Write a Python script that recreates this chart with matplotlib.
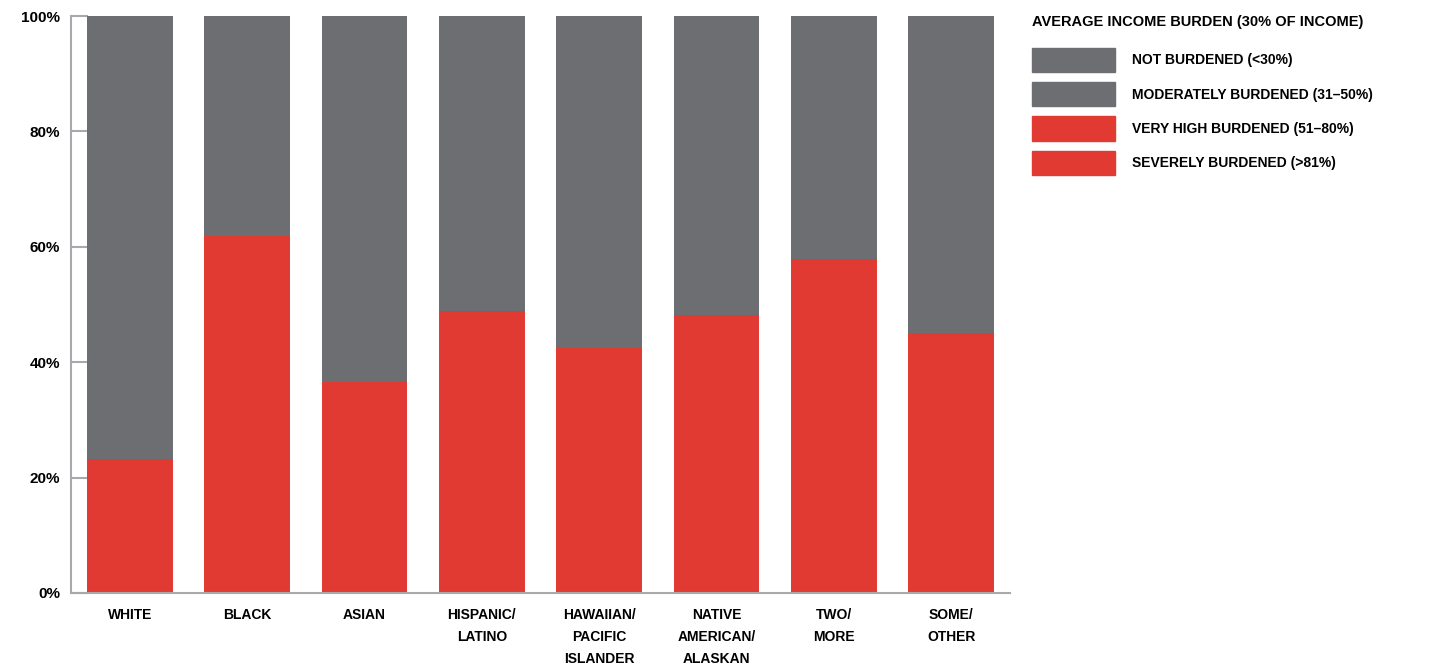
import matplotlib.pyplot as plt
from matplotlib.patches import Patch

plt.rcParams["font.family"] = ["Liberation Sans Narrow", "Liberation Sans", "DejaVu Sans"]
plt.rcParams["font.weight"] = "bold"

# 数据
categories = ["WHITE", "BLACK", "ASIAN", "HISPANIC/\nLATINO", "HAWAIIAN/\nPACIFIC\nISLANDER",
              "NATIVE\nAMERICAN/\nALASKAN", "TWO/\nMORE", "SOME/\nOTHER"]
burdened = [23.2, 61.9, 36.6, 48.9, 42.5, 48.2, 57.9, 45.1]
not_burdened = [100 - v for v in burdened]
legend_title = "AVERAGE INCOME BURDEN (30% OF INCOME)"
legend_labels = ["NOT BURDENED (<30%)", "MODERATELY BURDENED (31–50%)",
                 "VERY HIGH BURDENED (51–80%)", "SEVERELY BURDENED (>81%)"]

gray = "#6d6e71"
red = "#e03a33"
axis_col = "#a7a9ac"

fig = plt.figure(figsize=(14.4, 6.67), dpi=100)
ax = fig.add_axes([0.0493, 0.111, 0.652, 0.865])

x = range(len(categories))
ax.bar(x, burdened, width=0.73, color=red, zorder=2)
ax.bar(x, not_burdened, bottom=burdened, width=0.73, color=gray, zorder=2)

ax.set_xlim(-0.5, 7.5)
ax.set_ylim(0, 100)
ax.set_yticks([0, 20, 40, 60, 80, 100])
ax.set_yticklabels(["0%", "20%", "40%", "60%", "80%", "100%"], fontsize=11, fontweight="bold")
ax.set_xticks(list(x))
ax.set_xticklabels(categories, fontsize=10, fontweight="bold", linespacing=1.7, va="top")
ax.tick_params(axis="y", direction="in", length=12, width=1.5, color=axis_col, pad=8)
ax.tick_params(axis="x", length=0, pad=11)

for s in ["top", "right"]:
    ax.spines[s].set_visible(False)
for s in ["left", "bottom"]:
    ax.spines[s].set_color(axis_col)
    ax.spines[s].set_linewidth(1.5)

# 图例
fig.text(1032 / 1440, 1 - 22 / 667, legend_title, fontsize=10.5, fontweight="bold",
         ha="left", va="center")
handles = [Patch(color=gray), Patch(color=gray), Patch(color=red), Patch(color=red)]
leg = fig.legend(handles, legend_labels, loc="upper left",
                 bbox_to_anchor=(1032 / 1440, 1 - 48 / 667), frameon=False,
                 fontsize=10, handlelength=6, handleheight=2.3,
                 labelspacing=0.72, handletextpad=1.2, borderpad=0, borderaxespad=0)

fig.savefig("out.png", dpi=100)
